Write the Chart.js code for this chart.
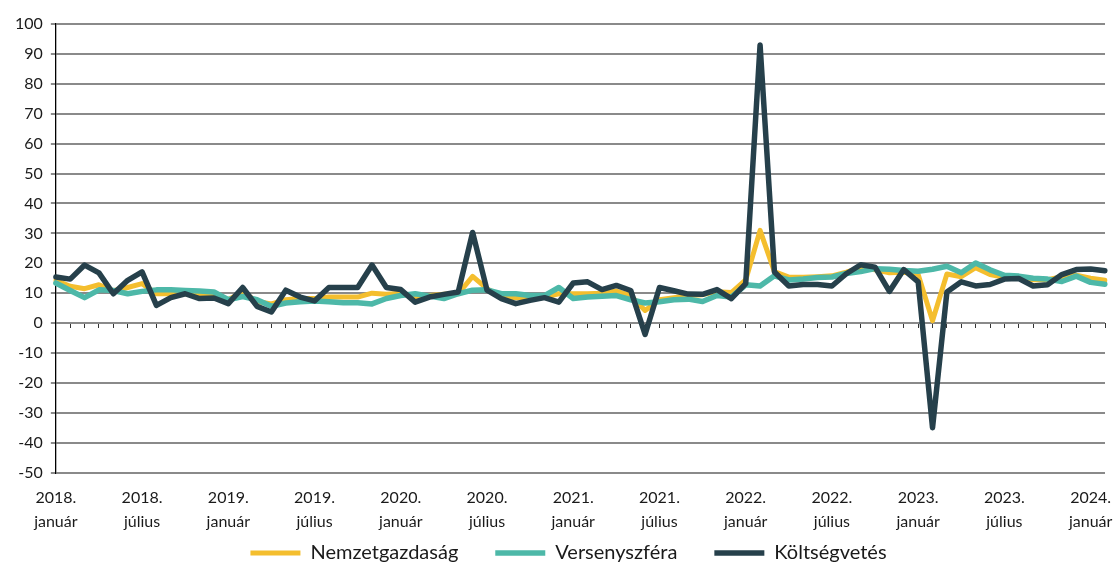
<!DOCTYPE html>
<html lang="hu">
<head>
<meta charset="UTF-8">
<title>Bérek alakulása</title>
<script src="https://cdn.jsdelivr.net/npm/chart.js"></script>
<style>
  html, body { margin: 0; padding: 0; background: #fff; }
  #wrap { width: 1119px; height: 564px; position: relative; }
</style>
</head>
<body>
<div id="wrap"><canvas id="chart"></canvas></div>
<script>
// havi adatok, 2018. január - 2024. február
const years = [2018, 2019, 2020, 2021, 2022, 2023, 2024];
const monthNames = ['január', 'február', 'március', 'április', 'május', 'június',
                    'július', 'augusztus', 'szeptember', 'október', 'november', 'december'];
const monthCount = 74;

const nemzetgazdasag = [
  14.3, 12.3, 11.5, 12.8, 10.8, 11.9, 13.2, 9.8, 9.8, 9.8,
  9.4, 9.1, 7.8, 10.4, 7.2, 6.4, 7.8, 8.2, 8.2, 8.7,
  8.7, 8.7, 10.0, 9.6, 10.0, 8.7, 9.2, 9.6, 9.8, 15.6,
  11.5, 8.7, 8.5, 8.5, 8.7, 9.8, 9.8, 9.8, 10.0, 10.7,
  9.2, 4.2, 7.8, 8.5, 9.2, 9.5, 10.5, 10.2, 14.4, 31.0,
  17.2, 15.4, 15.3, 15.5, 15.8, 17.0, 18.5, 17.8, 16.8, 17.0,
  16.2, 0.8, 16.4, 15.5, 18.5, 16.2, 15.3, 15.3, 14.5, 14.5,
  15.5, 16.0, 15.0, 14.3
];
const versenyszfera = [
  13.4, 10.9, 8.5, 11.1, 10.9, 9.8, 10.6, 11.1, 11.1, 10.9,
  10.7, 10.4, 7.8, 8.9, 7.8, 5.6, 6.7, 7.1, 7.4, 7.1,
  6.8, 6.8, 6.4, 8.2, 9.2, 9.8, 9.0, 8.2, 9.8, 11.0,
  11.1, 9.8, 9.8, 9.2, 9.2, 11.9, 8.2, 8.7, 9.0, 9.2,
  7.8, 6.7, 7.1, 7.8, 8.0, 7.2, 9.2, 8.7, 12.8, 12.4,
  15.8, 14.4, 14.7, 15.2, 15.4, 16.6, 17.2, 18.2, 18.0, 17.6,
  17.3, 18.0, 19.0, 16.8, 20.1, 17.8, 16.0, 15.7, 15.0, 14.7,
  13.9, 15.7, 13.6, 13.0
];
const koltsegvetes = [
  15.4, 14.7, 19.4, 16.8, 9.8, 14.3, 17.1, 5.9, 8.5, 9.8,
  8.2, 8.4, 6.5, 11.9, 5.6, 3.7, 11.0, 8.7, 7.4, 11.9,
  11.9, 11.9, 19.4, 11.9, 11.2, 7.0, 8.7, 9.6, 10.4, 30.3,
  11.0, 8.2, 6.5, 7.6, 8.5, 7.0, 13.4, 13.8, 11.2, 12.6,
  10.9, -3.8, 11.9, 10.8, 9.7, 9.6, 11.2, 8.2, 13.2, 93.0,
  17.1, 12.4, 12.9, 12.9, 12.4, 16.5, 19.5, 18.7, 10.6, 17.9,
  13.8, -35.0, 10.4, 13.8, 12.4, 12.9, 14.7, 14.9, 12.4, 12.8,
  16.2, 17.9, 18.1, 17.5
];

const labels = [];
years.forEach(function(y) {
  monthNames.forEach(function(m) {
    if (labels.length < monthCount) labels.push(y + '. ' + m);
  });
});

const fontFamily = "Lato, 'Open Sans', sans-serif";
const textColor = '#1a1a1a';

// a jelmagyarázatot közelebb húzzuk a tengelyfeliratokhoz
const legendShift = {
  id: 'legendShift',
  afterLayout: function(chart) {
    const lg = chart.legend;
    if (!lg) return;
    lg.top -= 41; lg.bottom -= 41;
    lg.left += 7; lg.right += 7;
  }
};

const ctx = document.getElementById('chart').getContext('2d');
const chart = new Chart(ctx, {
  type: 'line',
  data: {
    labels: labels,
    datasets: [
      { label: 'Nemzetgazdaság', data: nemzetgazdasag, borderColor: '#F4BE2E', backgroundColor: '#F4BE2E', borderWidth: 5, order: 3 },
      { label: 'Versenyszféra', data: versenyszfera, borderColor: '#4DB8A8', backgroundColor: '#4DB8A8', borderWidth: 5.5, order: 2 },
      { label: 'Költségvetés', data: koltsegvetes, borderColor: '#26404B', backgroundColor: '#26404B', borderWidth: 5.5, order: 1 }
    ]
  },
  options: {
    responsive: true,
    maintainAspectRatio: false,
    animation: false,
    elements: {
      point: { radius: 0, hoverRadius: 0 },
      line: { tension: 0, borderJoinStyle: 'round', borderCapStyle: 'round' }
    },
    layout: { padding: { top: 24, left: 7, right: 3, bottom: -50 } },
    plugins: {
      tooltip: { enabled: false },
      legend: {
        position: 'bottom',
        labels: {
          usePointStyle: true,
          pointStyle: 'line',
          pointStyleWidth: 50,
          padding: 37,
          color: textColor,
          font: { family: fontFamily, size: 20 },
          sort: function(a, b) { return a.datasetIndex - b.datasetIndex; }
        }
      }
    },
    scales: {
      x: {
        type: 'category',
        offset: false,
        grid: { display: false, drawTicks: false },
        border: { display: false },
        ticks: {
          autoSkip: false,
          maxRotation: 0,
          padding: 14,
          color: textColor,
          font: { family: fontFamily, size: 16, lineHeight: 1.45 },
          callback: function(value, index) {
            return index % 6 === 0 ? labels[index].split(' ') : '';
          }
        }
      },
      x2: {
        type: 'category',
        position: { y: 0 },
        offset: false,
        grid: { drawOnChartArea: false, drawTicks: true, tickLength: 5, color: '#333', lineWidth: 1 },
        border: { display: false },
        ticks: { display: false, autoSkip: false }
      },
      y: {
        min: -50,
        max: 100,
        ticks: {
          stepSize: 10,
          padding: 8,
          color: textColor,
          font: { family: fontFamily, size: 16 }
        },
        grid: { color: '#8a8a8a', lineWidth: 2, tickLength: 5 },
        border: { color: '#000', width: 1.3 }
      }
    }
  },
  plugins: [legendShift]
});
</script>
</body>
</html>
